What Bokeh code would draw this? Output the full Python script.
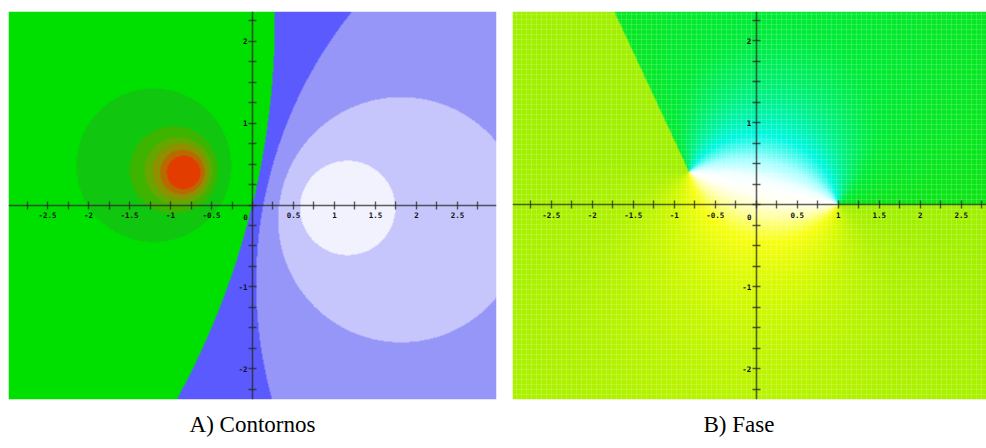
import numpy as np
from bokeh.plotting import figure
from bokeh.layouts import row
from bokeh.models import Range1d, FixedTicker, Label, Title
from bokeh.embed import file_html
from bokeh.resources import INLINE

# ---- data ----
zero_pt = (1.0, 0.0)          # zero of w(z) = (z - zero)/(z - pole)
pole_pt = (-0.82, 0.40)       # pole
# contour levels of |z-zero|/|z-pole| (panel A) and their fill colours
levels = [0.287, 0.557, 0.84, 1.1, 2.39, 3.73, 4.7, 5.6, 7.0, 9.2]
level_colors = ["#f2f2ff", "#c6c6fc", "#9696f8", "#5a5aff", "#00e000", "#10c60e",
                "#3cb400", "#66a600", "#8e9000", "#b86a00", "#e23c00"]
# phase panel B: direction of the cut leaving the pole, colour stops over the phase
cut_angle = 115.0
phase_stops = [-180, -130, -100, -70, -40, -15, 0, 15, 40, 70, 110, 150, 180]
phase_colors = ["#10e410", "#00ec38", "#00f288", "#00f8e0", "#a0ffff", "#f0ffff", "#ffffff",
                "#fffff0", "#ffffa0", "#f8ff10", "#d4fa00", "#b0f200", "#a0f000"]

xticks = [i * 0.25 for i in range(-11, 12)]
yticks = [i * 0.25 for i in range(-9, 10)]
xlabels = {t: (f"{t:g}" if (abs(t * 2 - round(t * 2)) < 1e-9 and t != 0) else "") for t in xticks}
ylabels = {t: (f"{t:g}" if (abs(t - round(t)) < 1e-9 and t != 0) else "") for t in yticks}

XA = (-2.976, 2.976)
XB = (-2.972, 2.808)
YA = (-2.378, 2.366)
YB = (-2.378, 2.354)

SERIF = "'Liberation Serif', 'Times New Roman', serif"


def hex_rgb(h):
    return [int(h[i:i + 2], 16) for i in (1, 3, 5)]


def make_fig(xr, yr, fw, fh, left, right, top):
    p = figure(width=fw + left + right, height=fh + top + 48, x_range=Range1d(*xr), y_range=Range1d(*yr),
               output_backend="svg", toolbar_location=None, min_border_left=left,
               min_border_right=right, min_border_top=top, min_border_bottom=48)
    p.outline_line_color = None
    p.xgrid.visible = False
    p.ygrid.visible = False
    for ax in (p.xaxis[0], p.yaxis[0]):
        ax.fixed_location = 0
        ax.axis_line_color = "#2a2a2a"
        ax.axis_line_alpha = 0.75
        ax.axis_line_width = 1.6
        ax.major_tick_line_color = "#2a2a2a"
        ax.major_tick_line_alpha = 0.75
        ax.major_tick_line_width = 1.4
        ax.major_tick_in = 4
        ax.major_tick_out = 4
        ax.minor_tick_line_color = None
        ax.major_label_text_font = "DejaVu Sans Mono"
        ax.major_label_text_font_style = "bold"
        ax.major_label_text_font_size = "7.5px"
        ax.major_label_text_color = "#111111"
    p.xaxis[0].ticker = FixedTicker(ticks=xticks)
    p.xaxis[0].major_label_overrides = xlabels
    p.xaxis[0].major_label_standoff = 3
    p.yaxis[0].ticker = FixedTicker(ticks=yticks)
    p.yaxis[0].major_label_overrides = ylabels
    p.yaxis[0].major_label_standoff = 1
    p.add_layout(Label(x=0, y=0, text="0", x_offset=-7, y_offset=-15, text_align="center",
                       text_font="DejaVu Sans Mono", text_font_style="bold", text_font_size="7.5px",
                       text_color="#111111"))
    return p


def caption(text, align, offset):
    return Title(text=text, align=align, offset=offset, text_font=SERIF,
                 text_font_style="normal", text_font_size="23px", text_color="#000000", standoff=20)


# ---------- panel A: contours ----------
wA, hA = 488, 389
xs = np.linspace(XA[0], XA[1], wA)
ys = np.linspace(YA[0], YA[1], hA)
X, Y = np.meshgrid(xs, ys)
Z = X + 1j * Y
a = complex(*zero_pt)
b = complex(*pole_pt)
K = np.abs(Z - a) / np.abs(Z - b)
idx = np.digitize(K, levels)
pal = np.array([hex_rgb(c) for c in level_colors], dtype=np.uint8)
imgA = np.empty((hA, wA), dtype=np.uint32)
va = imgA.view(dtype=np.uint8).reshape((hA, wA, 4))
va[:, :, :3] = pal[idx]
va[:, :, 3] = 255

p1 = make_fig(XA, YA, wA, hA, 8, 8, 10)
p1.image_rgba(image=[imgA], x=XA[0], y=YA[0], dw=XA[1] - XA[0], dh=YA[1] - YA[0], level="image")
p1.add_layout(caption("A) Contornos", "center", 0), "below")

# ---------- panel B: phase ----------
wB, hB = 474, 388
xs = np.linspace(XB[0], XB[1], wB)
ys = np.linspace(YB[0], YB[1], hB)
X, Y = np.meshgrid(xs, ys)
Z = X + 1j * Y
T1 = np.mod(np.degrees(np.angle(Z - a)), 360.0)
T2 = np.mod(np.degrees(np.angle(Z - b)) - cut_angle, 360.0)
phase = T1 - T2 - cut_angle + 180.0
phase = np.clip(phase, -180, 180)
stops_rgb = np.array([hex_rgb(c) for c in phase_colors], dtype=float)
imgB = np.empty((hB, wB), dtype=np.uint32)
vb = imgB.view(dtype=np.uint8).reshape((hB, wB, 4))
for ch in range(3):
    vb[:, :, ch] = np.interp(phase, phase_stops, stops_rgb[:, ch]).astype(np.uint8)
vb[:, :, 3] = 255

p2 = make_fig(XB, YB, wB, hB, 8, 0, 11)
p2.height = hB + 11 + 48
p2.image_rgba(image=[imgB], x=XB[0], y=YB[0], dw=XB[1] - XB[0], dh=YB[1] - YB[0], level="image")
p2.xgrid.visible = True
p2.ygrid.visible = True
p2.xgrid.ticker = FixedTicker(ticks=[i * 0.061 for i in range(-50, 50)])
p2.ygrid.ticker = FixedTicker(ticks=[i * 0.061 for i in range(-40, 40)])
for gr in (p2.xgrid[0], p2.ygrid[0]):
    gr.grid_line_color = "#ffffff"
    gr.grid_line_alpha = 0.16
    gr.grid_line_width = 1
    gr.level = "underlay"
p2.add_layout(caption("B) Fase", "left", 191), "below")

layout = row(p1, p2, spacing=0)
open("out.html", "w").write(file_html(layout, INLINE))
